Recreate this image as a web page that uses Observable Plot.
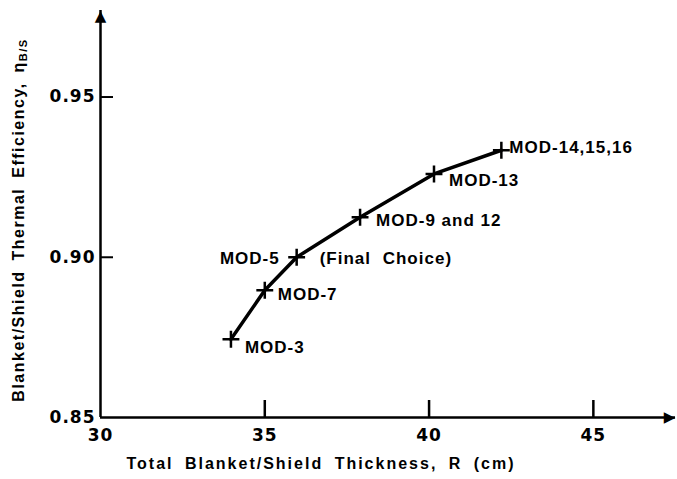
<!DOCTYPE html>
<html><head><meta charset="utf-8">
<script src="https://cdn.jsdelivr.net/npm/d3@7"></script>
<script src="https://cdn.jsdelivr.net/npm/@observablehq/plot@0.6"></script>
<style>body{margin:0;background:#fff} svg{display:block} svg text{font-weight:bold}</style>
</head><body><div id="chart"></div>
<script>
const models = ["MOD-3", "MOD-7", "MOD-5", "MOD-9 and 12", "MOD-13", "MOD-14,15,16"];
const thickness = [33.97, 35.0, 35.97, 37.9, 40.15, 42.2];
const efficiency = [0.8744, 0.8897, 0.900, 0.9125, 0.926, 0.9334];
const xTickValues = [30, 35, 40, 45];
const yTickValues = [0.85, 0.90, 0.95];
const xDomain = [30, 47.5];
const yDomain = [0.85, 0.977];
const xTitle = "Total Blanket/Shield Thickness, R (cm)";
const yTitle = "Blanket/Shield Thermal Efficiency, η";
const ySub = "B/S";
const note = "(Final Choice)";

const data = models.map((m, i) => ({model: m, x: thickness[i], y: efficiency[i]}));
const font = "'Liberation Sans', Arial, sans-serif";
const tickFont = "'DejaVu Sans', sans-serif";

function label(name, opts) {
  return Plot.text(data.filter(d => d.model === name), {
    x: "x", y: "y", text: "model", fontSize: 17, fontWeight: "bold",
    fill: "black", textAnchor: "start", lineAnchor: "middle", ...opts
  });
}

const plot = Plot.plot({
  width: 677, height: 479,
  marginLeft: 100, marginRight: 2, marginTop: 10, marginBottom: 62,
  style: {fontFamily: font, background: "white", color: "black", overflow: "visible"},
  x: {domain: xDomain},
  y: {domain: yDomain},
  marks: [
    Plot.ruleY([yDomain[0]], {strokeWidth: 2.5}),
    Plot.ruleX([xDomain[0]], {strokeWidth: 2.5}),
    Plot.axisX({ticks: xTickValues.slice(1), tickSize: 17, dy: -17, fill: "none", label: null, strokeWidth: 2.5}),
    Plot.axisX({ticks: xTickValues, tickSize: 0, tickPadding: 11, fontSize: 17, fontFamily: tickFont, fontWeight: "bold", label: null}),
    Plot.axisY({ticks: yTickValues.slice(1), tickSize: 13, dx: 13, fill: "none", label: null, strokeWidth: 2}),
    Plot.axisY({ticks: yTickValues, tickSize: 0, tickPadding: 5, tickFormat: d3.format(".2f"), fontSize: 17, fontFamily: tickFont, fontWeight: "bold", label: null}),
    Plot.text([{x: xDomain[0], y: yDomain[1]}], {x: "x", y: "y", text: () => "▲", fontFamily: "DejaVu Sans", fontSize: 15, dy: 6, fill: "black"}),
    Plot.text([{x: xDomain[1], y: yDomain[0]}], {x: "x", y: "y", text: () => "▶", fontFamily: "DejaVu Sans", fontSize: 15, dx: -6, fill: "black"}),
    Plot.line(data, {x: "x", y: "y", strokeWidth: 3.5, stroke: "black"}),
    Plot.dot(data, {x: "x", y: "y", symbol: "plus", r: 5.5, stroke: "black", strokeWidth: 2.5}),
    label("MOD-3", {dx: 14, dy: 8}),
    label("MOD-7", {dx: 13, dy: 4}),
    label("MOD-5", {dx: -17, dy: 1, textAnchor: "end"}),
    label("MOD-5", {dx: 23, dy: 1, text: () => note}),
    label("MOD-9 and 12", {dx: 16, dy: 3}),
    label("MOD-13", {dx: 15, dy: 7}),
    label("MOD-14,15,16", {dx: 8, dy: -3}),
    Plot.text([xTitle], {text: d => d, frameAnchor: "bottom", textAnchor: "middle", lineAnchor: "middle", dx: -67, dy: 46, fontSize: 16, fontWeight: "bold", fill: "black"}),
    Plot.text([yTitle], {text: d => d, frameAnchor: "left", textAnchor: "middle", lineAnchor: "middle", rotate: -90, dx: -82, dy: 6, fontSize: 16, fontWeight: "bold", fill: "black"})
  ]
});
document.getElementById("chart").append(plot);

const svg = d3.select(plot);
svg.selectAll("text").each(function() {
  const t = d3.select(this);
  const s = this.textContent;
  if (s === xTitle) t.style("letter-spacing", "2px").style("word-spacing", "5px");
  else if (s === yTitle) {
    t.style("letter-spacing", "1.5px").style("word-spacing", "4px");
    t.append("tspan").attr("font-size", 11).attr("dy", "0.3em").text(ySub);
  } else if (s === note) t.style("letter-spacing", "1px").style("word-spacing", "6px");
  else if (models.includes(s)) t.style("letter-spacing", "1px");
});
svg.selectAll("g[aria-label='x-axis tick label'] text, g[aria-label='y-axis tick label'] text")
  .style("letter-spacing", "1px")
  .style("font-weight", "bold")
  .style("font-family", tickFont)
  .style("font-size", "17px");
</script>
</body></html>
